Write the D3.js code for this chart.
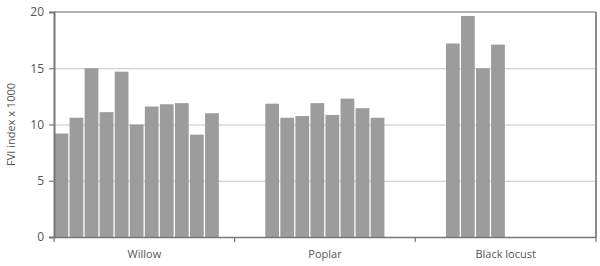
<!DOCTYPE html>
<html>
  <head>
    <style>
      body { margin: 0; background: #fff; }
      text { font-family: "Open Sans", "Noto Sans", sans-serif; fill: #555; }
    </style>
  </head>
  <body>
    <div id="chart"></div>
  </body>
</html>

<script src="https://d3js.org/d3.v7.min.js"></script>

<script>
    // data (FVI index x 1000), 12 slots per category
    var categories = ["Willow", "Poplar", "Black locust"]
    var willow = [9.2, 10.6, 15.0, 11.1, 14.7, 10.0, 11.6, 11.8, 11.9, 9.1, 11.0, null]
    var poplar = [null, null, 11.85, 10.6, 10.75, 11.9, 10.85, 12.3, 11.45, 10.6, null, null]
    var blackLocust = [null, null, 17.2, 19.65, 15.0, 17.1, null, null, null, null, null, null]
    var yTicks = [0, 5, 10, 15, 20]

    var series = [willow, poplar, blackLocust]

    var width = 600
        height = 266
        margin = {top: 12, right: 4, bottom: 29, left: 54}

    var svg = d3.select("#chart")
      .append("svg")
        .attr("width", width)
        .attr("height", height)

    var x = d3.scaleBand()
      .domain(categories)
      .range([margin.left, width - margin.right])
      .padding(0)

    var slot = d3.scaleBand()
      .domain(d3.range(12))
      .range([0, x.bandwidth()])
      .padding(0)

    var y = d3.scaleLinear()
      .domain([0, 20])
      .range([height - margin.bottom, margin.top])

    // gridlines
    svg.append("g")
      .selectAll("line")
      .data(yTicks.slice(1, -1))
      .enter()
      .append("line")
        .attr("x1", margin.left)
        .attr("x2", width - margin.right)
        .attr("y1", function(d) { return y(d) + 0.5 })
        .attr("y2", function(d) { return y(d) + 0.5 })
        .attr("stroke", "#c4c4c4")
        .attr("stroke-width", 1)

    // bars
    var groups = svg.append("g")
      .selectAll("g")
      .data(categories)
      .enter()
      .append("g")
        .attr("transform", function(d) { return "translate(" + x(d) + ",0)" })

    groups.selectAll("rect")
      .data(function(d, i) {
        return series[i].map(function(v, j) { return {i: j, v: v} }).filter(function(e) { return e.v != null })
      })
      .enter()
      .append("rect")
        .attr("x", function(d) { return slot(d.i) + 0.5 })
        .attr("width", slot.bandwidth() - 1.3)
        .attr("y", function(d) { return y(d.v) })
        .attr("height", function(d) { return y(0) - y(d.v) })
        .attr("fill", "#9c9c9c")

    // frame top and right
    svg.append("line")
      .attr("x1", margin.left).attr("x2", width - margin.right)
      .attr("y1", margin.top).attr("y2", margin.top)
      .attr("stroke", "#666").attr("stroke-width", 1.2)
    svg.append("line")
      .attr("x1", width - margin.right).attr("x2", width - margin.right)
      .attr("y1", margin.top).attr("y2", height - margin.bottom)
      .attr("stroke", "#666").attr("stroke-width", 1.5)

    // y axis
    var yAxis = svg.append("g")
      .attr("transform", "translate(" + margin.left + ",0)")
      .call(d3.axisLeft(y).tickValues(yTicks).tickSize(5).tickPadding(5))
    yAxis.select(".domain").attr("stroke", "#777").attr("stroke-width", 2)
    yAxis.selectAll(".tick line").attr("stroke", "#777").attr("stroke-width", 1.2)
    yAxis.selectAll("text").style("font-size", "12px").attr("fill", "#555")

    // x axis
    var xAxis = svg.append("g")
      .attr("transform", "translate(0," + y(0) + ")")
      .call(d3.axisBottom(x).tickSize(0).tickPadding(13))
    xAxis.select(".domain").attr("stroke", "#777").attr("stroke-width", 1.5)
    xAxis.selectAll("text").style("font-size", "11px").attr("fill", "#555")

    // category boundary ticks
    xAxis.selectAll(".sep")
      .data(categories.map(function(c) { return x(c) }).concat([width - margin.right]))
      .enter()
      .append("line")
        .attr("class", "sep")
        .attr("x1", function(d) { return d })
        .attr("x2", function(d) { return d })
        .attr("y1", 0)
        .attr("y2", 5)
        .attr("stroke", "#777")
        .attr("stroke-width", 1.2)

    // y label
    svg.append("text")
      .attr("transform", "translate(15," + ((margin.top + height - margin.bottom) / 2) + ") rotate(-90)")
      .attr("text-anchor", "middle")
      .style("font-size", "11px")
      .text("FVI index x 1000")
</script>
